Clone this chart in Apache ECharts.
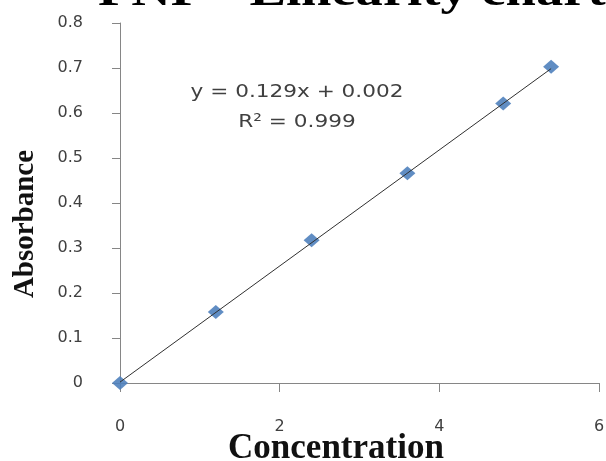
<!DOCTYPE html>
<html>
<head>
<meta charset="utf-8">
<script src="https://cdn.jsdelivr.net/npm/echarts@6/dist/echarts.min.js"></script>
<style>
html,body{margin:0;padding:0;background:#fff;}
#chart{width:606px;height:461px;}
</style>
</head>
<body>
<div id="chart"></div>
<script>
const chartTitle = 'PNP - Linearity chart';
const xAxisTitle = 'Concentration';
const yAxisTitle = 'Absorbance';
const concentration = [0, 1.2, 2.4, 3.6, 4.8, 5.4];
const absorbance = [0, 0.158, 0.317, 0.466, 0.621, 0.703];
const slope = 0.129;
const intercept = 0.002;
const equationText = 'y = 0.129x + 0.002';
const r2Text = 'R\u00B2 = 0.999';

const points = concentration.map((c, i) => [c, absorbance[i]]);
const xStart = concentration[0];
const xEnd = concentration[concentration.length - 1];
const trend = [[xStart, slope * xStart + intercept], [xEnd, slope * xEnd + intercept]];

const chart = echarts.init(document.getElementById('chart'));
const axisColor = '#868686';
const labelColor = '#404040';
chart.setOption({
  animation: false,
  backgroundColor: '#ffffff',
  grid: { left: 120, right: 7, top: 23, bottom: 78, containLabel: false, outerBoundsMode: 'none' },
  xAxis: {
    type: 'value', min: 0, max: 6, interval: 2,
    name: xAxisTitle, nameLocation: 'middle', nameGap: 48, nameMoveOverlap: false,
    nameTextStyle: { fontFamily: 'Liberation Serif', fontWeight: 'bold', fontSize: 35, color: '#111', padding: [0, 47, 0, 0] },
    axisLine: { show: true, onZero: false, lineStyle: { color: axisColor, width: 1 } },
    axisTick: { show: true, inside: false, length: 9, lineStyle: { color: axisColor } },
    axisLabel: { margin: 36, fontFamily: 'DejaVu Sans', fontSize: 16, color: labelColor },
    splitLine: { show: false }
  },
  yAxis: {
    type: 'value', min: 0, max: 0.8, interval: 0.1,
    name: yAxisTitle, nameLocation: 'middle', nameGap: 80, nameMoveOverlap: false,
    nameTextStyle: { fontFamily: 'Liberation Serif', fontWeight: 'bold', fontSize: 29, color: '#111', padding: [0, 42, 0, 0] },
    axisLine: { show: true, onZero: false, lineStyle: { color: axisColor, width: 1 } },
    axisTick: { show: true, inside: false, length: 8, lineStyle: { color: axisColor } },
    axisLabel: { margin: 37, fontFamily: 'DejaVu Sans', fontSize: 16, color: labelColor },
    splitLine: { show: false }
  },
  graphic: [
    { type: 'text', x: 98, y: 16, scaleX: 1.24, silent: true,
      style: { text: chartTitle, font: 'bold 44px "Liberation Serif"', fill: '#000', align: 'left', verticalAlign: 'bottom' } },
    { type: 'text', x: 297, y: 92, scaleX: 1.2, silent: true,
      style: { text: equationText, font: '18px "DejaVu Sans"', fill: labelColor, align: 'center', verticalAlign: 'middle' } },
    { type: 'text', x: 297, y: 122, scaleX: 1.2, silent: true,
      style: { text: r2Text, font: '18px "DejaVu Sans"', fill: labelColor, align: 'center', verticalAlign: 'middle' } }
  ],
  series: [
    {
      name: 'Trendline', type: 'line', data: trend, showSymbol: false, symbol: 'none',
      lineStyle: { color: '#303030', width: 1 }, z: 3, silent: true
    },
    {
      name: 'Absorbance', type: 'scatter', data: points, symbol: 'diamond', symbolSize: [16, 14],
      itemStyle: { color: '#4F81BD', opacity: 0.9 }, z: 2
    }
  ]
});
</script>
</body>
</html>
